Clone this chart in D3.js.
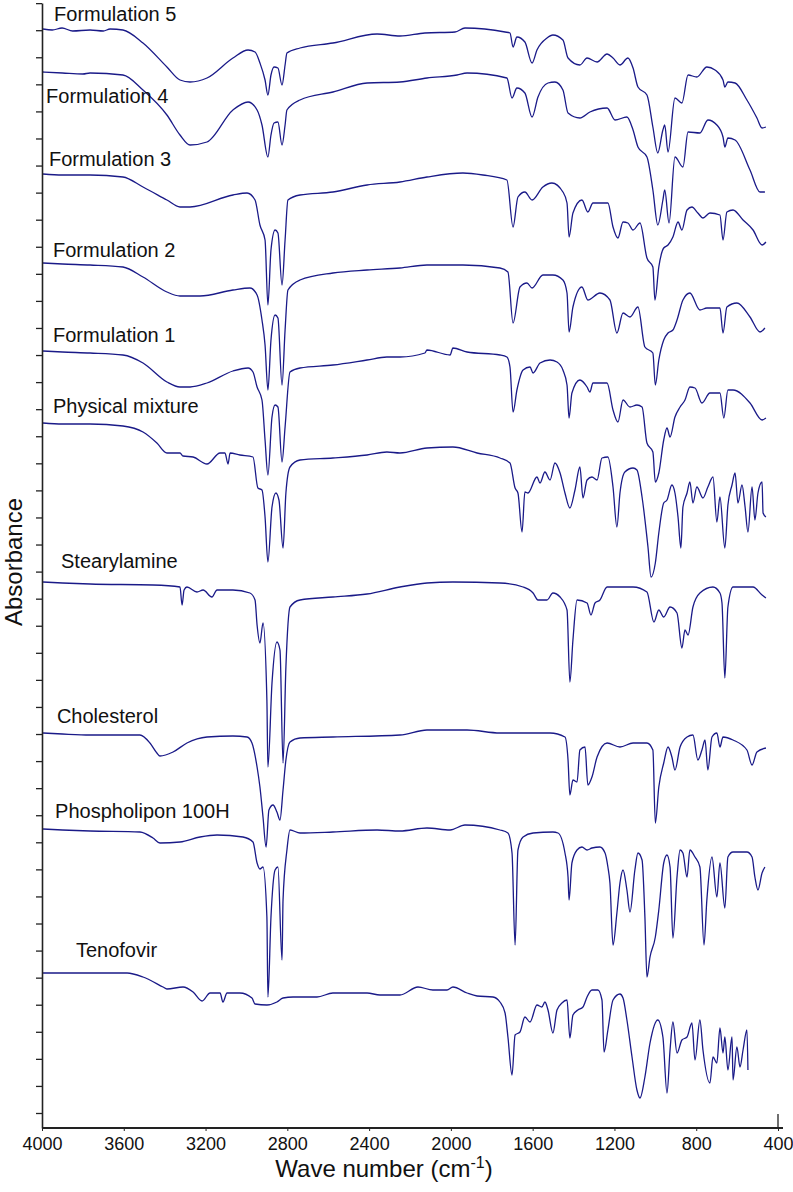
<!DOCTYPE html>
<html>
<head>
<meta charset="utf-8">
<script src="https://cdn.jsdelivr.net/npm/d3@7"></script>
<style>
  body { margin: 0; background: #fff; }
  svg { display: block; font-family: "Liberation Sans", Arial, sans-serif; }
</style>
</head>
<body>
<script>
// FTIR spectra, stacked. x = wave number (cm-1), y = stacked absorbance (arbitrary units)

var seriesNames = ["Formulation 5", "Formulation 4", "Formulation 3", "Formulation 2", "Formulation 1",
  "Physical mixture", "Stearylamine", "Cholesterol", "Phospholipon 100H", "Tenofovir"];

var xTickLabels = [4000, 3600, 3200, 2800, 2400, 2000, 1600, 1200, 800, 400];

var formulation5 = [[3995,1099],[3950,1098],[3902,1100],[3850,1097],[3765,1098],[3700,1097],[3667,1099],[3604,1098],
  [3506,1085],[3389,1061],[3325,1048],[3276,1046],[3193,1050],[3066,1070],[2992,1078],[2958,1076],[2934,1065],
  [2909,1048],[2895,1033],[2880,1053],[2865,1061],[2846,1060],[2826,1043],[2811,1063],[2802,1075],[2738,1080],
  [2577,1085],[2361,1094],[2249,1092],[2127,1095],[1980,1096],[1931,1100],[1735,1096],[1711,1095],[1696,1081],
  [1677,1091],[1638,1086],[1603,1065],[1579,1078],[1530,1090],[1501,1093],[1452,1088],[1427,1070],[1369,1063],
  [1334,1070],[1285,1066],[1236,1074],[1207,1070],[1173,1063],[1134,1070],[1109,1060],[1085,1041],[1041,1033],
  [1012,1001],[988,975],[963,998],[954,1003],[938,976],[904,1030],[870,1025],[840,1053],[797,1051],[748,1061],
  [708,1058],[669,1048],[660,1041],[645,1046],[610,1045],[552,1028],[503,1010],[478,1000],[459,1001]];

var formulation4 = [[3995,1056],[3900,1055],[3800,1054],[3765,1055],[3604,1053],[3506,1038],[3389,1013],[3325,993],
  [3276,983],[3193,986],[3066,1018],[2992,1026],[2948,1018],[2924,1003],[2895,971],[2880,993],[2865,1005],
  [2846,1006],[2826,983],[2811,1003],[2802,1018],[2738,1028],[2577,1036],[2410,1045],[2249,1046],[2117,1050],
  [1970,1053],[1921,1055],[1726,1050],[1701,1030],[1677,1040],[1638,1035],[1603,1011],[1574,1031],[1525,1045],
  [1491,1046],[1452,1038],[1427,1015],[1369,1010],[1320,1016],[1236,1020],[1197,1008],[1139,1011],[1109,998],
  [1085,981],[1041,971],[1012,938],[988,903],[963,928],[954,938],[933,905],[904,971],[865,961],[840,996],
  [782,995],[743,1008],[699,1003],[669,991],[660,981],[645,990],[610,988],[537,958],[488,936],[464,936]];

var formulation3 = [[3995,954],[3900,953],[3765,953],[3604,951],[3506,941],[3389,928],[3325,921],[3276,921],
  [3066,933],[2997,935],[2958,928],[2934,903],[2909,888],[2895,823],[2880,878],[2860,898],[2846,895],[2826,843],
  [2811,888],[2797,928],[2738,933],[2577,936],[2410,943],[2249,946],[2117,951],[1941,955],[1843,953],[1726,948],
  [1696,901],[1672,931],[1638,936],[1603,928],[1550,941],[1506,945],[1452,936],[1432,925],[1422,891],[1403,915],
  [1359,928],[1330,916],[1305,925],[1232,925],[1207,901],[1183,890],[1158,906],[1134,905],[1109,898],[1075,905],
  [1041,870],[1012,861],[1002,828],[983,861],[959,880],[938,883],[914,891],[889,906],[870,898],[845,918],
  [821,921],[792,915],[767,910],[733,915],[684,913],[669,888],[650,916],[620,918],[571,908],[522,898],
  [478,883],[459,886]];

var formulation2 = [[3995,865],[3900,864],[3765,863],[3604,861],[3506,851],[3389,836],[3325,832],[3227,832],
  [3066,838],[2983,840],[2948,833],[2924,808],[2909,783],[2895,738],[2880,788],[2860,813],[2846,810],[2826,743],
  [2811,798],[2797,838],[2738,848],[2577,855],[2410,858],[2249,860],[2117,863],[1941,863],[1760,860],[1721,856],
  [1696,805],[1662,841],[1628,845],[1603,840],[1550,853],[1501,853],[1452,848],[1432,835],[1422,796],[1403,821],
  [1359,841],[1330,828],[1271,835],[1222,828],[1188,795],[1158,815],[1124,811],[1085,821],[1051,781],[1012,775],
  [1000,743],[983,768],[959,788],[938,795],[914,798],[894,808],[865,828],[831,835],[782,818],[748,820],
  [684,820],[669,795],[650,821],[601,825],[537,811],[488,796],[464,800]];

var formulation1 = [[3995,777],[3900,776],[3765,775],[3604,773],[3506,765],[3389,746],[3325,741],[3276,741],
  [3193,745],[3066,757],[2992,760],[2968,756],[2948,741],[2924,728],[2909,688],[2895,653],[2875,711],[2860,723],
  [2846,721],[2826,666],[2811,701],[2787,756],[2738,760],[2577,763],[2410,768],[2313,771],[2249,771],[2127,775],
  [2117,778],[2004,773],[1990,780],[1921,776],[1760,773],[1726,771],[1711,761],[1696,716],[1677,738],[1647,758],
  [1613,761],[1598,755],[1564,765],[1515,768],[1481,766],[1452,758],[1432,743],[1422,710],[1408,735],[1369,748],
  [1334,741],[1320,736],[1305,745],[1236,745],[1207,718],[1183,706],[1158,728],[1124,721],[1090,723],[1065,721],
  [1041,685],[1012,676],[1000,646],[983,655],[959,688],[943,700],[928,691],[904,711],[879,721],[855,728],
  [831,741],[806,740],[772,725],[733,735],[684,735],[665,710],[645,738],[620,738],[537,725],[478,708],[459,710]];

var physicalMixture = [[3995,705],[3900,704],[3765,704],[3604,702],[3506,696],[3438,685],[3389,675],[3325,675],
  [3310,672],[3261,671],[3193,664],[3129,675],[3105,675],[3090,664],[3080,675],[3032,673],[2968,671],[2944,640],
  [2924,638],[2909,611],[2895,566],[2875,621],[2856,635],[2841,628],[2821,580],[2807,635],[2787,661],[2738,668],
  [2577,670],[2410,673],[2313,676],[2249,675],[2117,680],[1990,681],[1872,675],[1760,670],[1711,665],[1686,640],
  [1672,635],[1652,596],[1638,636],[1623,635],[1579,651],[1564,645],[1540,656],[1515,648],[1491,665],[1466,655],
  [1442,635],[1418,620],[1393,638],[1369,661],[1354,630],[1334,648],[1310,651],[1285,648],[1261,670],[1232,671],
  [1207,641],[1188,601],[1173,635],[1149,656],[1109,660],[1090,658],[1065,631],[1036,581],[1021,551],[1000,565],
  [983,595],[959,625],[943,628],[919,643],[904,635],[889,611],[875,580],[865,621],[845,635],[831,646],[816,625],
  [797,641],[767,630],[743,641],[718,651],[699,606],[684,631],[660,580],[645,623],[625,643],[610,655],[596,625],
  [576,643],[561,621],[547,596],[527,641],[513,608],[498,635],[478,646],[473,615],[459,611]];

var stearylamine = [[3995,546],[3900,545],[3765,544],[3457,543],[3325,541],[3315,523],[3305,538],[3291,541],
  [3242,536],[3212,538],[3169,531],[3144,538],[3066,538],[2983,535],[2958,528],[2948,503],[2934,485],[2919,505],
  [2900,428],[2895,361],[2875,445],[2851,486],[2836,478],[2821,365],[2807,461],[2787,521],[2738,528],[2577,531],
  [2410,534],[2249,541],[2117,545],[1990,546],[1760,545],[1647,541],[1598,535],[1574,528],[1530,528],[1501,535],
  [1466,531],[1432,518],[1418,446],[1403,488],[1383,528],[1334,525],[1315,513],[1295,525],[1271,528],[1236,541],
  [1109,541],[1041,536],[1007,506],[983,518],[959,511],[928,521],[894,515],[870,480],[855,498],[840,493],
  [816,521],[782,535],[718,541],[684,535],[674,525],[660,450],[645,521],[620,541],[522,541],[478,533],[459,530]];

var cholesterol = [[3995,395],[3900,394],[3765,393],[3521,393],[3472,385],[3438,375],[3423,372],[3359,376],
  [3291,385],[3193,391],[3066,392],[2997,391],[2973,385],[2948,361],[2934,341],[2919,311],[2904,281],[2890,318],
  [2870,323],[2851,316],[2836,308],[2821,338],[2807,368],[2787,386],[2738,390],[2577,391],[2249,393],[2117,398],
  [1921,398],[1760,395],[1515,395],[1442,391],[1427,368],[1418,333],[1403,348],[1383,346],[1369,378],[1344,381],
  [1330,343],[1310,351],[1285,371],[1236,385],[1173,381],[1109,385],[1041,385],[1012,378],[1000,305],[983,341],
  [959,365],[938,381],[919,371],[904,358],[879,381],[845,391],[816,393],[792,368],[772,378],[757,388],[743,358],
  [723,391],[699,395],[684,381],[669,391],[620,388],[552,378],[527,363],[503,376],[459,380]];

var phospholipon = [[3995,299],[3900,298],[3765,297],[3521,296],[3457,290],[3423,285],[3325,286],[3227,291],
  [3144,293],[3017,291],[2968,286],[2948,265],[2934,259],[2919,261],[2900,211],[2895,131],[2880,211],[2860,258],
  [2846,261],[2826,168],[2821,228],[2802,278],[2787,298],[2738,295],[2577,296],[2361,298],[2249,297],[2117,300],
  [2004,298],[1931,303],[1760,298],[1721,295],[1701,275],[1686,183],[1672,278],[1647,291],[1598,295],[1501,296],
  [1476,295],[1442,275],[1427,251],[1422,228],[1408,265],[1383,278],[1359,281],[1334,278],[1310,280],[1271,281],
  [1246,275],[1232,261],[1222,245],[1207,183],[1188,215],[1173,245],[1158,258],[1139,238],[1124,216],[1100,258],
  [1085,275],[1065,268],[1051,211],[1041,151],[1026,171],[1000,191],[983,218],[959,265],[943,273],[928,261],
  [914,190],[894,251],[879,278],[865,275],[845,251],[831,278],[806,271],[782,261],[762,183],[748,228],[723,271],
  [699,231],[684,265],[660,220],[645,271],[620,276],[552,276],[527,271],[513,251],[498,238],[478,255],[464,261]];

var tenofovir = [[3995,155],[3765,155],[3584,155],[3506,151],[3408,141],[3389,139],[3310,141],[3261,136],
  [3217,127],[3178,135],[3129,135],[3115,126],[3095,135],[3032,135],[2973,130],[2958,124],[2900,123],[2851,126],
  [2821,130],[2772,131],[2655,131],[2577,135],[2410,135],[2347,133],[2249,133],[2161,141],[2088,138],[2019,138],
  [1990,141],[1921,135],[1872,132],[1794,131],[1760,126],[1735,115],[1721,91],[1701,53],[1686,93],[1662,96],
  [1638,111],[1613,106],[1579,123],[1555,121],[1540,126],[1525,118],[1501,95],[1481,118],[1457,125],[1432,128],
  [1418,90],[1403,113],[1379,118],[1354,121],[1334,131],[1310,138],[1281,138],[1261,128],[1251,76],[1232,98],
  [1207,128],[1173,134],[1158,130],[1139,108],[1114,71],[1090,38],[1075,30],[1051,51],[1026,85],[988,108],
  [963,91],[943,35],[928,78],[914,106],[894,75],[870,88],[845,91],[821,105],[806,68],[782,108],[767,78],
  [733,45],[718,71],[699,65],[684,100],[669,75],[660,91],[645,58],[625,91],[620,48],[601,81],[586,61],
  [571,78],[552,98],[547,58]];

var spectra = [formulation5, formulation4, formulation3, formulation2, formulation1,
  physicalMixture, stearylamine, cholesterol, phospholipon, tenofovir];

// where each name sits (wave number, stacked value)
var labelAt = [[3941,1107],[3980,1025],[3966,962],[3946,871],[3946,786],
  [3946,715],[3907,560],[3927,405],[3936,310],[3834,171]];

var width = 793, height = 1192;
var margin = {left: 42, right: 15, top: 3, bottom: 64};

var svg = d3.select("body").append("svg")
  .attr("width", width)
  .attr("height", height);

var x = d3.scaleLinear()
  .domain([4000, 400])
  .range([margin.left, 778]);

var y = d3.scaleLinear()
  .domain([0, 1125])
  .range([height - margin.bottom, margin.top]);

var lineColor = "#1a1a88";

// spectra
var line = d3.line()
  .curve(d3.curveMonotoneX)
  .x(function(d){ return x(d[0]); })
  .y(function(d){ return y(d[1]); });

svg.append("g")
  .selectAll("path")
  .data(spectra)
  .enter()
  .append("path")
  .attr("d", line)
  .attr("fill", "none")
  .attr("stroke", lineColor)
  .attr("stroke-width", 1.3)
  .attr("stroke-linejoin", "round");

// names
svg.append("g")
  .selectAll("text")
  .data(seriesNames)
  .enter()
  .append("text")
  .attr("x", function(d, i){ return x(labelAt[i][0]); })
  .attr("y", function(d, i){ return y(labelAt[i][1]); })
  .style("font-size", "20px")
  .attr("fill", "#111")
  .text(function(d){ return d; });

// y axis, ticks only
var yAxis = d3.axisLeft(y)
  .tickValues(d3.range(15, 1126, 27.07))
  .tickFormat("")
  .tickSizeInner(6)
  .tickSizeOuter(0);

var gy = svg.append("g")
  .attr("transform", "translate(" + margin.left + ",0)")
  .call(yAxis);
gy.selectAll("line").attr("stroke", "#222").attr("stroke-width", 1.3);
gy.select(".domain").attr("stroke", "#222").attr("stroke-width", 1.6);

// x axis
var xAxis = d3.axisBottom(x)
  .tickValues(xTickLabels)
  .tickFormat(d3.format("d"))
  .tickSizeInner(3)
  .tickSizeOuter(0)
  .tickPadding(6);

var gx = svg.append("g")
  .attr("transform", "translate(0," + y(0) + ")")
  .call(xAxis);
gx.select(".domain").remove();
gx.selectAll("line").attr("stroke", "#222");
gx.selectAll("text")
  .style("font-size", "18px")
  .attr("fill", "#111");

gx.append("line")
  .attr("x1", x(4000)).attr("x2", x(400) + 5)
  .attr("y1", 0).attr("y2", 0)
  .attr("stroke", "#222")
  .attr("stroke-width", 1.8);

// the end tick at 400 points up
gx.append("line")
  .attr("x1", x(400)).attr("x2", x(400))
  .attr("y1", 0).attr("y2", -14)
  .attr("stroke", "#222")
  .attr("stroke-width", 1.3);

// axis titles
var xTitle = svg.append("text")
  .attr("x", 384)
  .attr("y", 1177)
  .style("text-anchor", "middle")
  .style("font-size", "24px")
  .attr("fill", "#111");
xTitle.append("tspan").text("Wave number (cm");
xTitle.append("tspan").attr("dy", "-9").style("font-size", "16px").text("-1");
xTitle.append("tspan").attr("dy", "9").text(")");

svg.append("text")
  .attr("transform", "translate(22,562) rotate(-90)")
  .style("text-anchor", "middle")
  .style("font-size", "24px")
  .attr("fill", "#111")
  .text("Absorbance");
</script>
</body>
</html>
